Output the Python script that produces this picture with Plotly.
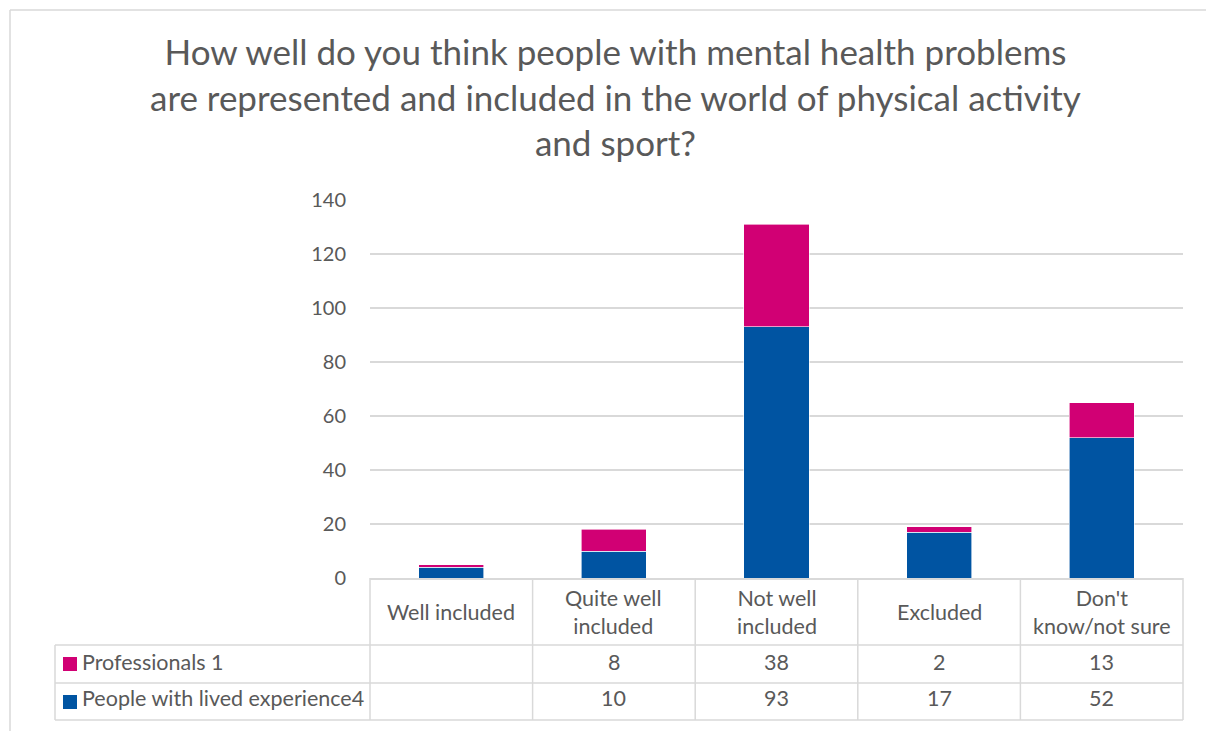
import plotly.graph_objects as go

# Survey responses per answer option
categories = ["Well included", "Quite well<br>included", "Not well<br>included",
              "Excluded", "Don't<br>know/not sure"]
professionals = [1, 8, 38, 2, 13]
lived_experience = [4, 10, 93, 17, 52]
series_names = ["Professionals", "People with lived experience"]
y_ticks = [0, 20, 40, 60, 80, 100, 120, 140]

title_text = ("How well do you think people with mental health problems<br>"
              "are represented and included in the world of physical activity<br>"
              "and sport?")

PINK = "#D10074"
BLUE = "#0054A2"
GRID = "#D9D9D9"
TEXT = "#595959"
FONT = "Lato"

W, H = 1206, 731
L, R, T, B = 370, 1183, 200, 578   # plot area in pixels


def px(x):
    return (x - L) / (R - L)


def py(y):
    return (B - y) / (B - T)


fig = go.Figure()
fig.add_trace(go.Bar(x=list(range(len(categories))), y=lived_experience,
                     name=series_names[1], marker_color=BLUE,
                     marker_line=dict(color="white", width=0.6)))
fig.add_trace(go.Bar(x=list(range(len(categories))), y=professionals,
                     name=series_names[0], marker_color=PINK,
                     marker_line=dict(color="white", width=0.6)))

n = len(categories)
col_w = (R - L) / n
row_tops = [578, 645, 683, 720]
legend_left = 55

shapes = []
line = dict(color=GRID, width=1.5)
# horizontal table lines
for yy in row_tops[1:]:
    shapes.append(dict(type="line", xref="paper", yref="paper",
                       x0=px(legend_left), x1=px(R), y0=py(yy), y1=py(yy), line=line))
# vertical lines between category columns
for i in range(n + 1):
    xx = L + i * col_w
    shapes.append(dict(type="line", xref="paper", yref="paper",
                       x0=px(xx), x1=px(xx), y0=py(578), y1=py(720), line=line))
shapes.append(dict(type="line", xref="paper", yref="paper",
                   x0=px(legend_left), x1=px(legend_left), y0=py(645), y1=py(720), line=line))
# outer chart frame (top and left)
shapes.append(dict(type="line", xref="paper", yref="paper",
                   x0=px(10), x1=px(W + 5), y0=py(10), y1=py(10), line=line))
shapes.append(dict(type="line", xref="paper", yref="paper",
                   x0=px(10), x1=px(10), y0=py(10), y1=py(H + 5), line=line))
# legend keys
for yy, color in [(664, PINK), (702, BLUE)]:
    shapes.append(dict(type="rect", xref="paper", yref="paper",
                       x0=px(63), x1=px(77), y0=py(yy - 7), y1=py(yy + 7),
                       fillcolor=color, line=dict(width=0)))

annotations = []
annotations.append(dict(text=title_text, xref="paper", yref="paper",
                        x=px(615), y=py(28), xanchor="center", yanchor="top",
                        showarrow=False, align="center",
                        font=dict(family=FONT, size=35, color=TEXT)))
# category header cells
for i, cat in enumerate(categories):
    annotations.append(dict(text=cat, xref="paper", yref="paper",
                            x=px(L + (i + 0.5) * col_w), y=py(612),
                            xanchor="center", yanchor="middle", showarrow=False,
                            font=dict(family=FONT, size=21.5, color=TEXT)))
# value rows; the first-column value sits directly after the series name
rows = [(series_names[0] + " ", professionals, 662),
        (series_names[1], lived_experience, 698)]
for name, vals, yy in rows:
    annotations.append(dict(text=f"{name}{vals[0]}", xref="paper", yref="paper",
                            x=px(80), y=py(yy), xanchor="left", yanchor="middle",
                            showarrow=False,
                            font=dict(family=FONT, size=21.5, color=TEXT)))
    for i in range(1, n):
        annotations.append(dict(text=str(vals[i]), xref="paper", yref="paper",
                                x=px(L + (i + 0.5) * col_w), y=py(yy),
                                xanchor="center", yanchor="middle", showarrow=False,
                                font=dict(family=FONT, size=21.5, color=TEXT)))

fig.update_layout(
    width=W, height=H,
    margin=dict(l=L, r=W - R, t=T, b=H - B, autoexpand=False),
    barmode="stack", bargap=0.6,
    plot_bgcolor="white", paper_bgcolor="white",
    showlegend=False,
    shapes=shapes, annotations=annotations,
    font=dict(family=FONT, color=TEXT),
    xaxis=dict(range=[-0.5, n - 0.5], showticklabels=False, showgrid=False,
               zeroline=False, showline=True, linecolor=GRID, linewidth=1.5,
               fixedrange=True),
    yaxis=dict(range=[0, 140], tickvals=y_ticks, showgrid=True, gridcolor=GRID,
               gridwidth=1.5, zeroline=False, showline=False,
               ticklabelstandoff=23, tickfont=dict(family=FONT, size=20, color=TEXT),
               fixedrange=True),
)

fig.write_html("out.html")
